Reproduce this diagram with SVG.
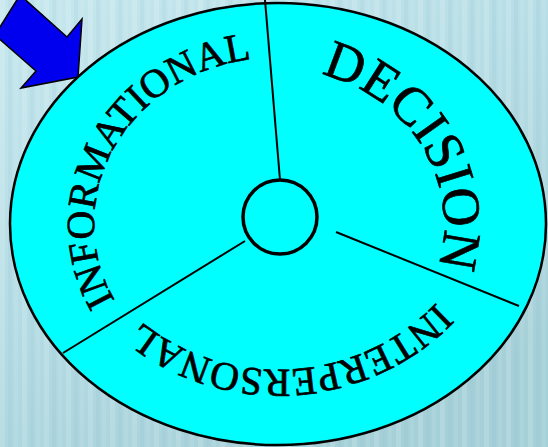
<svg xmlns="http://www.w3.org/2000/svg" width="548" height="447" viewBox="0 0 548 447">
  <defs>
    <linearGradient id="bg" x1="0" y1="0" x2="0.6" y2="1">
      <stop offset="0" stop-color="#c6e7ee"/>
      <stop offset="0.5" stop-color="#b6dde5"/>
      <stop offset="1" stop-color="#a6d0d8"/>
    </linearGradient>
    <pattern id="stripes" width="22" height="447" patternUnits="userSpaceOnUse">
      <rect x="0" y="0" width="5" height="447" fill="#ffffff" opacity="0.14"/>
      <rect x="8" y="0" width="4" height="447" fill="#7fb8c4" opacity="0.10"/>
      <rect x="14" y="0" width="4" height="447" fill="#ffffff" opacity="0.08"/>
    </pattern>
    <path id="pInfo" d="M 114.8 300.4 A 182 166 0 0 1 309.6 60.5"/>
    <path id="pDec" d="M 321 74.3 A 166 155 0 0 1 421.8 301.5"/>
    <path id="pInter" d="M 436.7 302.4 A 220 220 0 0 1 108.5 289.4"/>
    <style>
      .lbl { font-family: "Liberation Serif", "Times New Roman", serif; fill: #000; stroke: #000; stroke-width: 0.7; }
      .spoke { stroke: #000; stroke-width: 2; fill: none; }
    </style>
  </defs>
  <rect width="548" height="447" fill="url(#bg)"/>
  <rect width="548" height="447" fill="url(#stripes)"/>

  <g id="wheel">
    <ellipse cx="278" cy="224" rx="268" ry="221" fill="#00ffff" stroke="#000" stroke-width="2.5"/>
  </g>

  <g id="connectors">
    <line class="spoke" x1="265" y1="0" x2="280" y2="180"/>
    <line class="spoke" x1="336" y1="232" x2="519" y2="306"/>
    <line class="spoke" x1="245" y1="241" x2="63" y2="353"/>
  </g>

  <g id="hub">
    <circle cx="280" cy="217" r="37" fill="#00ffff" stroke="#000" stroke-width="3.5"/>
  </g>

  <g id="informational">
    <text class="lbl" font-size="40"><textPath href="#pInfo">INFORMATIONAL</textPath></text>
  </g>
  <g id="decision">
    <text class="lbl" font-size="54"><textPath href="#pDec">DECISION</textPath></text>
  </g>
  <g id="interpersonal">
    <text class="lbl" font-size="40"><textPath href="#pInter">INTERPERSONAL</textPath></text>
  </g>

  <g id="arrow">
    <polygon points="20,-5 67,37 82,19 78,77 21,88 36,71 -5,35" fill="#0000ee" stroke="#000" stroke-width="1.5" stroke-linejoin="miter"/>
  </g>
</svg>
